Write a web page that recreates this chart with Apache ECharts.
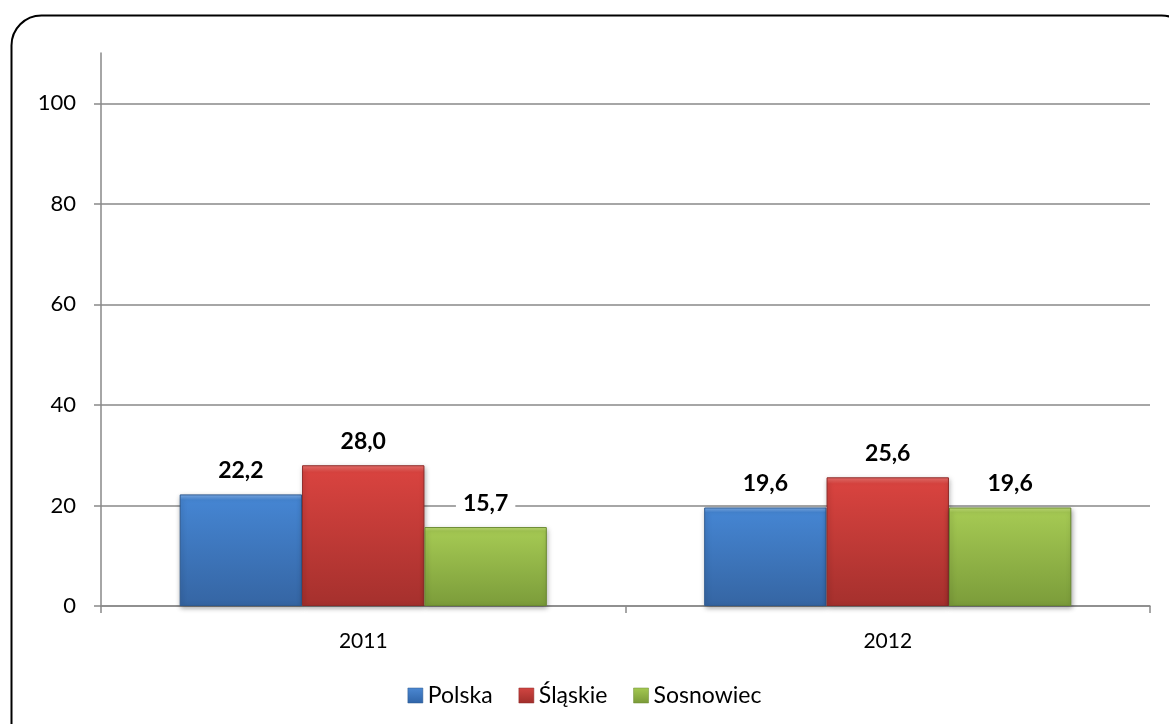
<!DOCTYPE html>
<html>
<head>
<meta charset="utf-8">
<script src="https://cdn.jsdelivr.net/npm/echarts@6/dist/echarts.min.js"></script>
<style>
html,body{margin:0;padding:0;background:#fff;}
#chart{width:1169px;height:724px;}
</style>
</head>
<body>
<div id="chart"></div>
<script>
var categories = ['2011', '2012'];
var seriesNames = ['Polska', 'Śląskie', 'Sosnowiec'];
var polska = [22.2, 19.6];
var slaskie = [28.0, 25.6];
var sosnowiec = [15.7, 19.6];
var yTicks = [0, 20, 40, 60, 80, 100];

var FONT = 'Lato, "Open Sans", sans-serif';
function grad(top, mid, bottom) {
  return new echarts.graphic.LinearGradient(0, 0, 0, 1, [
    {offset: 0, color: top}, {offset: 0.05, color: mid}, {offset: 1, color: bottom}
  ]);
}
var styles = [
  {color: grad('#7fb0ec', '#4585d2', '#3565a3'), border: '#2f5a8f', legend: grad('#6fa3e6', '#4a86d0', '#2f64a8')},
  {color: grad('#f07470', '#d8433f', '#a5302d'), border: '#8e2a28', legend: grad('#e86a66', '#cf4440', '#a02e2b')},
  {color: grad('#c4e27a', '#a5c953', '#7b9c3a'), border: '#6a8a30', legend: grad('#bfe070', '#a2c650', '#7a9a38')}
];
var dataSets = [polska, slaskie, sosnowiec];

var chart = echarts.init(document.getElementById('chart'), null, {renderer: 'canvas'});
chart.setOption({
  backgroundColor: '#fff',
  animation: false,
  graphic: [{
    type: 'rect', left: 9, top: 13,
    shape: {width: 1180, height: 740, r: 30},
    style: {fill: 'none', stroke: '#000', lineWidth: 2},
    silent: true, z: 100
  }],
  grid: {left: 101, right: 19, top: 53, bottom: 118, containLabel: false},
  legend: {
    left: 'center', top: 679,
    itemWidth: 15, itemHeight: 15, itemGap: 26,
    icon: 'rect',
    textStyle: {fontFamily: FONT, fontSize: 23, color: '#000', padding: [0, 0, 0, 0]},
    data: seriesNames.map(function (n, i) {
      return {name: n, itemStyle: {color: styles[i].legend, borderColor: styles[i].border, borderWidth: 0.5}};
    })
  },
  xAxis: {
    type: 'category', data: categories,
    axisLine: {lineStyle: {color: '#898989', width: 1.5}},
    axisTick: {show: true, length: 7, lineStyle: {color: '#898989', width: 1.5}},
    axisLabel: {fontFamily: FONT, fontSize: 21, color: '#000', margin: 25}
  },
  yAxis: {
    type: 'value', min: 0, max: 110, interval: 20,
    axisLine: {show: true, lineStyle: {color: '#898989', width: 1.5}},
    axisTick: {show: true, length: 7, lineStyle: {color: '#898989', width: 1.5}},
    axisLabel: {
      fontFamily: FONT, fontSize: 22, color: '#000', margin: 25,
      showMaxLabel: false,
      formatter: function (v) { return yTicks.indexOf(v) >= 0 ? String(v) : ''; }
    },
    splitLine: {show: true, showMaxLine: false, lineStyle: {color: '#898989', width: 1.5}}
  },
  series: dataSets.map(function (d, i) {
    return {
      name: seriesNames[i], type: 'bar', data: d,
      barGap: '0%', barCategoryGap: '30%',
      itemStyle: {
        color: styles[i].color, borderColor: styles[i].border, borderWidth: 1,
        shadowColor: 'rgba(0,0,0,0.35)', shadowBlur: 5, shadowOffsetY: 2, shadowOffsetX: 1
      },
      label: {
        show: true, position: 'top', distance: 12,
        fontFamily: FONT, fontSize: 23, fontWeight: 'bold', color: '#000',
        backgroundColor: '#fff', padding: [0, 7],
        formatter: function (p) { return p.value.toFixed(1).replace('.', ','); }
      }
    };
  })
});
</script>
</body>
</html>
